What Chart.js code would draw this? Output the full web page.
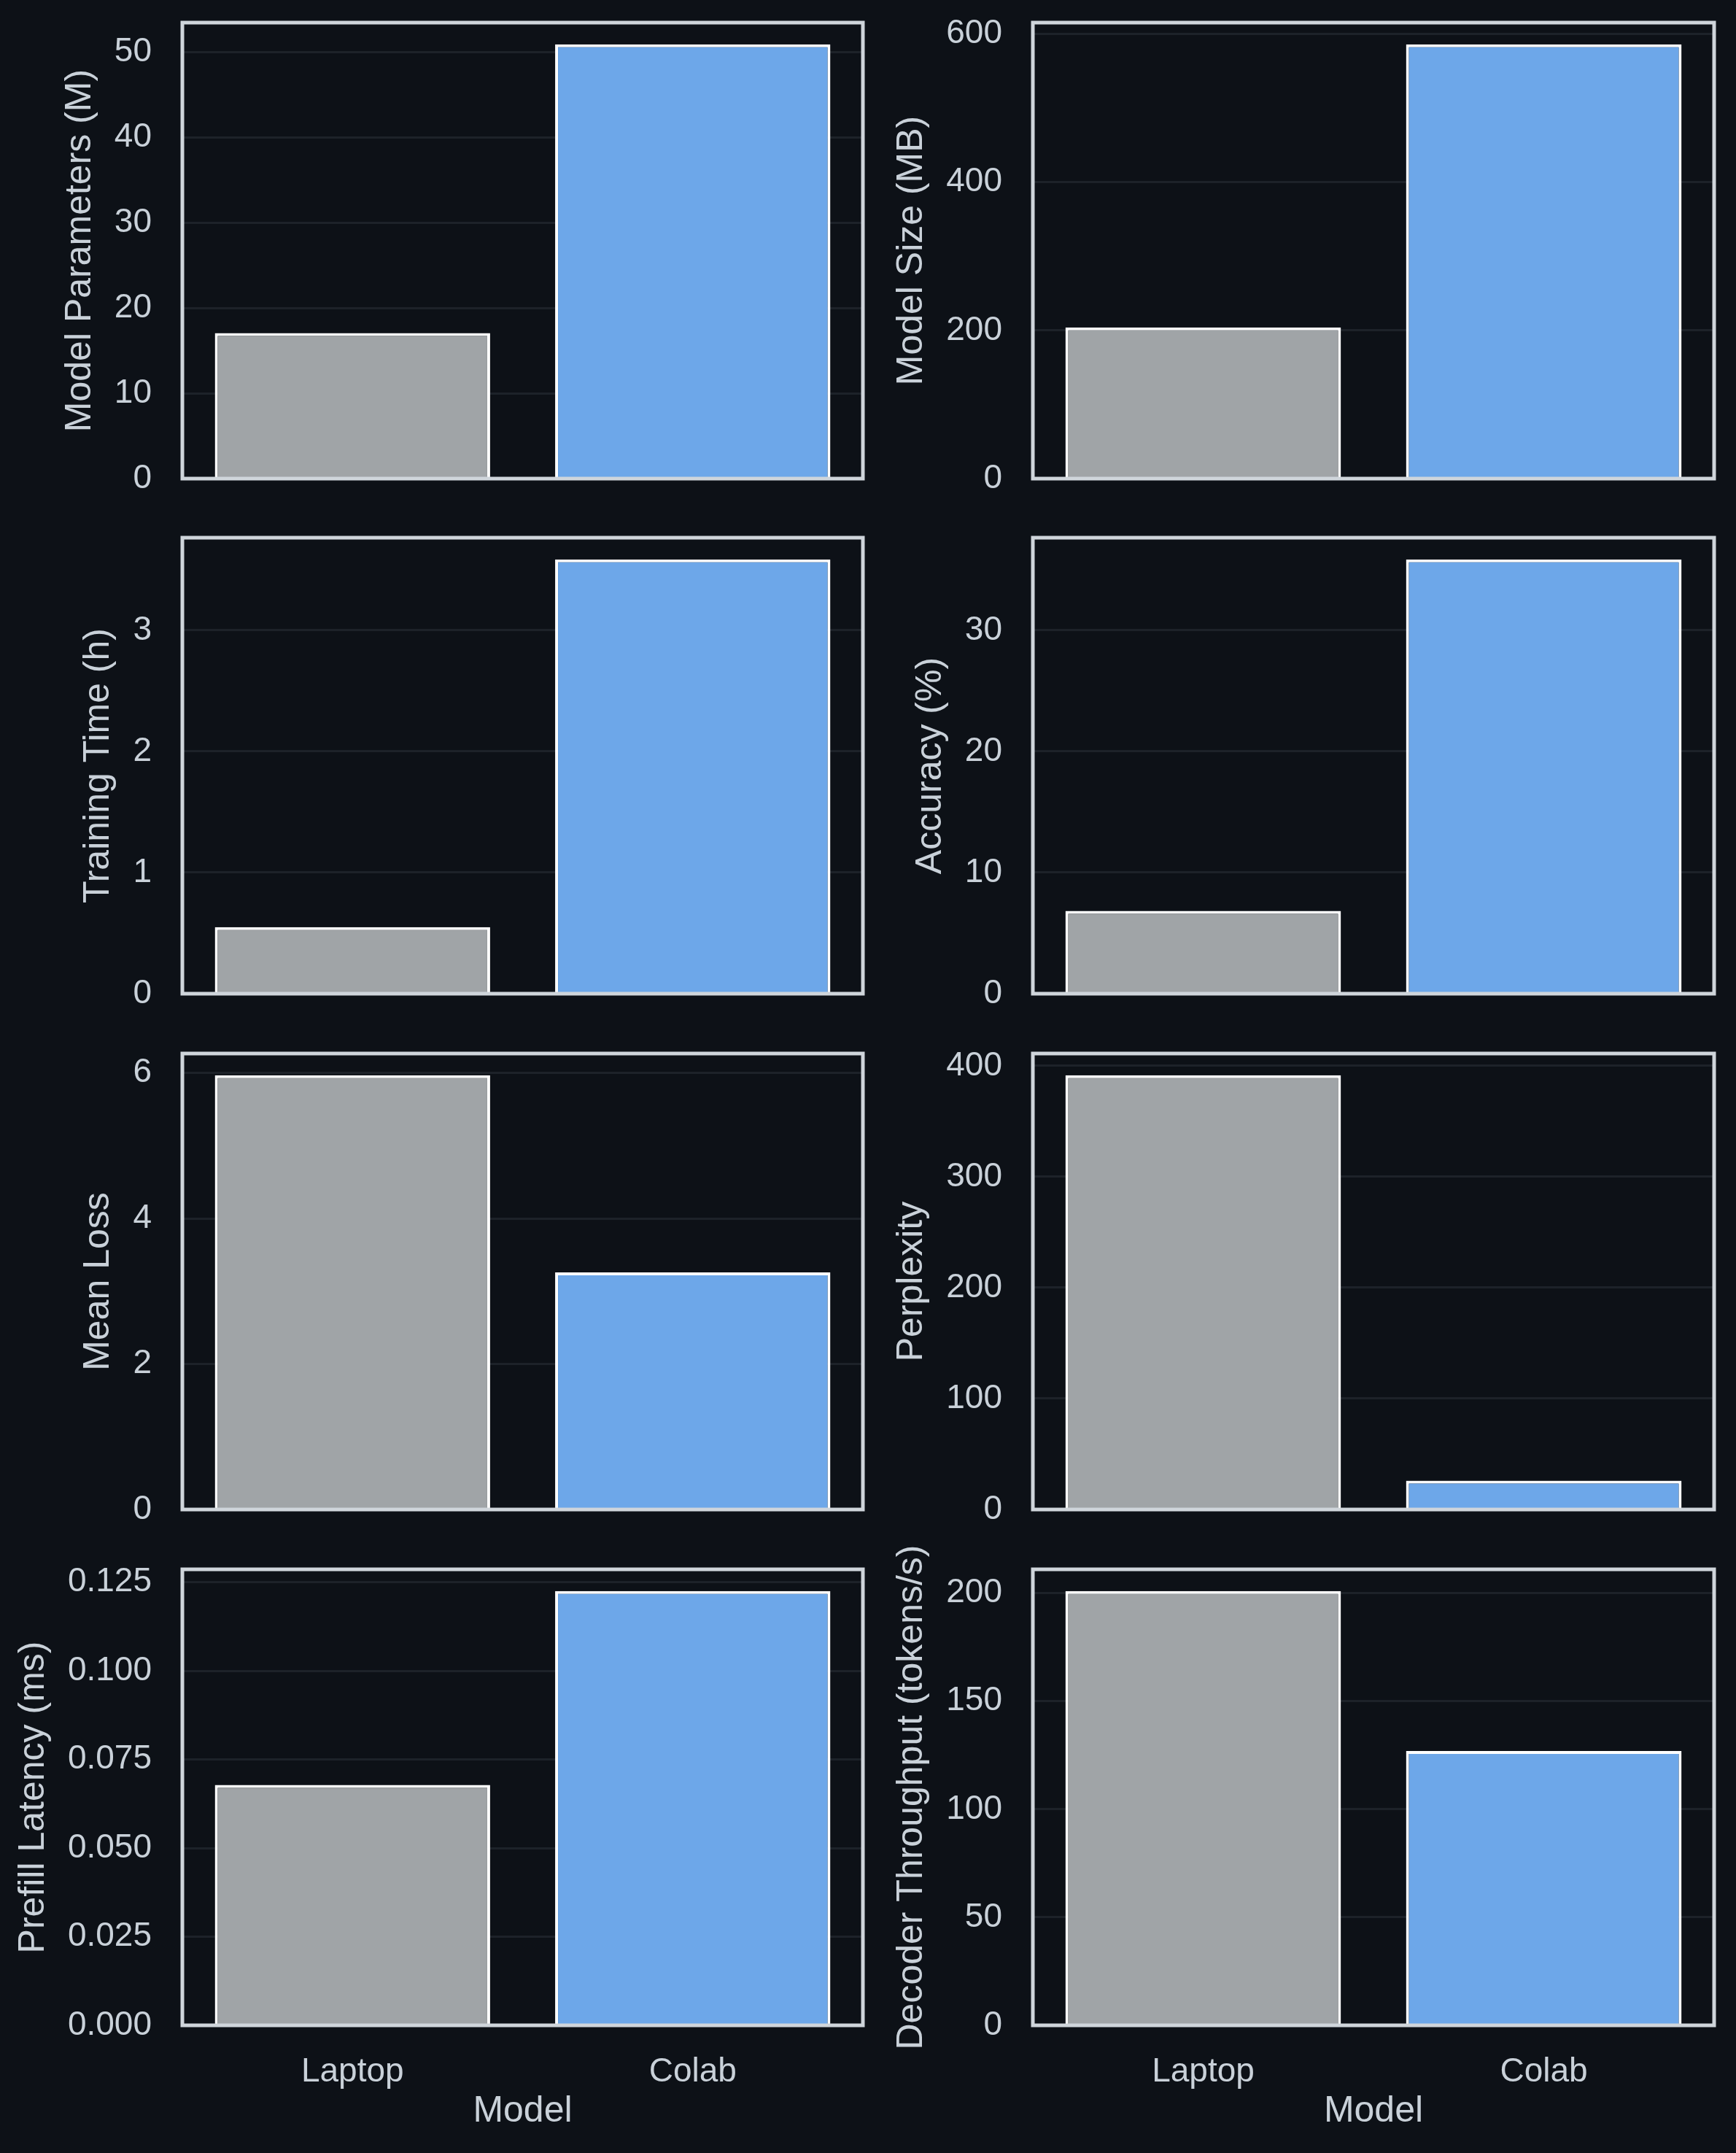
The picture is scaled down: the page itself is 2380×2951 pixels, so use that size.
<!DOCTYPE html>
<html>
<head>
<meta charset="utf-8">
<script src="https://cdn.jsdelivr.net/npm/chart.js@4.4.1/dist/chart.umd.min.js"></script>
<style>
  html, body { margin: 0; padding: 0; background: #0d1117; }
  #fig { position: relative; width: 2380px; height: 2951px; background: #0d1117; overflow: hidden; }
  #fig canvas { position: absolute; }
</style>
</head>
<body>
<div id="fig"></div>
<script>
// data
const models = ["Laptop", "Colab"];

const paramsM      = [17.06, 50.9];
const sizeMB       = [204, 586];
const trainHours   = [0.55, 3.585];
const accuracyPct  = [6.84, 35.85];
const meanLoss     = [5.97, 3.26];
const perplexity   = [391.5, 26.0];
const prefillMs    = [0.0678, 0.1225];
const decodeTokS   = [201, 127];

const paramsTicks  = [0, 10, 20, 30, 40, 50];
const sizeTicks    = [0, 200, 400, 600];
const trainTicks   = [0, 1, 2, 3];
const accTicks     = [0, 10, 20, 30];
const lossTicks    = [0, 2, 4, 6];
const pplTicks     = [0, 100, 200, 300, 400];
const prefillTicks = [0, 0.025, 0.05, 0.075, 0.1, 0.125];
const decodeTicks  = [0, 50, 100, 150, 200];

const panels = [
  { title: "Model Parameters (M)",           values: paramsM,     ticks: paramsTicks,  dp: 0 },
  { title: "Model Size (MB)",                values: sizeMB,      ticks: sizeTicks,    dp: 0 },
  { title: "Training Time (h)",              values: trainHours,  ticks: trainTicks,   dp: 0 },
  { title: "Accuracy (%)",                   values: accuracyPct, ticks: accTicks,     dp: 0 },
  { title: "Mean Loss",                      values: meanLoss,    ticks: lossTicks,    dp: 0 },
  { title: "Perplexity",                     values: perplexity,  ticks: pplTicks,     dp: 0 },
  { title: "Prefill Latency (ms)",           values: prefillMs,   ticks: prefillTicks, dp: 3 },
  { title: "Decoder Throughput (tokens/s)",  values: decodeTokS,  ticks: decodeTicks,  dp: 0 }
];

// look
const TEXT = "#c9d1d9";
const FRAME = "#cfd5db";
const GRID = "#1d2229";
const BAR_COLORS = ["#a0a4a7", "#6da7e9"];
const FONT = '"Liberation Sans", Arial, Helvetica, sans-serif';
const TICK_SIZE = 46;
const LABEL_SIZE = 50;

// layout of the 4x2 grid (canvas cells + plot area inside)
const cols = [
  { left: 0,    width: 1200, axisW: 250, padRight: 17 },
  { left: 1200, width: 1180, axisW: 216, padRight: 30 }
];
const rowTops = [0, 706, 1413, 2120];
const PAD_TOP = 31;
const PLOT_H = 625;

const measure = document.createElement("canvas").getContext("2d");
measure.font = `${TICK_SIZE}px ${FONT}`;

const framePlugin = {
  id: "frame",
  afterDraw(chart) {
    const { ctx, chartArea: a } = chart;
    ctx.save();
    ctx.strokeStyle = FRAME;
    ctx.lineWidth = 5;
    ctx.strokeRect(a.left, a.top, a.right - a.left, a.bottom - a.top);
    ctx.restore();
  }
};

function noPad(s) {
  s.paddingTop = 0;
  s.paddingBottom = 0;
  s.paddingLeft = 0;
  s.paddingRight = 0;
}

const fig = document.getElementById("fig");

panels.forEach((p, i) => {
  const row = Math.floor(i / 2);
  const col = cols[i % 2];
  const last = row === 3;
  const height = last ? 2951 - rowTops[row] : PAD_TOP + PLOT_H + 30;

  const canvas = document.createElement("canvas");
  canvas.width = col.width;
  canvas.height = height;
  canvas.style.left = col.left + "px";
  canvas.style.top = rowTops[row] + "px";
  canvas.style.width = col.width + "px";
  canvas.style.height = height + "px";
  fig.appendChild(canvas);

  const fmt = (v) => Number(v).toFixed(p.dp);
  const widest = Math.max(...p.ticks.map((t) => measure.measureText(fmt(t)).width));
  const labelLeft = col.axisW - 42 - widest;
  const titlePad = Math.max(0, labelLeft - 47 - LABEL_SIZE * 0.6);

  new Chart(canvas, {
    type: "bar",
    data: {
      labels: models,
      datasets: [{
        data: p.values,
        backgroundColor: BAR_COLORS,
        borderColor: "#ffffff",
        borderWidth: 4,
        barPercentage: 0.809,
        categoryPercentage: 1.0
      }]
    },
    options: {
      responsive: false,
      devicePixelRatio: 1,
      animation: false,
      layout: { padding: { left: 0, top: PAD_TOP, right: col.padRight, bottom: 0 } },
      plugins: { legend: { display: false }, tooltip: { enabled: false } },
      scales: {
        x: {
          display: last,
          grid: { display: false },
          border: { display: false },
          ticks: { color: TEXT, font: { family: FONT, size: TICK_SIZE }, padding: 29 },
          title: {
            display: true,
            text: "Model",
            color: TEXT,
            font: { family: FONT, size: LABEL_SIZE },
            padding: { top: 0, bottom: 27 }
          },
          // bottom strip below the plot; invisible on the upper rows
          afterFit: (s) => { s.height = height - PAD_TOP - PLOT_H; noPad(s); }
        },
        y: {
          min: 0,
          max: Math.max(...p.values) * 1.05,
          afterBuildTicks: (s) => { s.ticks = p.ticks.map((v) => ({ value: v })); },
          grid: { color: GRID, lineWidth: 3, drawTicks: false },
          border: { display: false },
          ticks: {
            color: TEXT,
            font: { family: FONT, size: TICK_SIZE },
            padding: 42,
            callback: (v) => fmt(v)
          },
          title: {
            display: true,
            text: p.title,
            color: TEXT,
            font: { family: FONT, size: LABEL_SIZE },
            padding: { top: titlePad, bottom: 0 }
          },
          afterFit: (s) => { s.width = col.axisW; noPad(s); }
        }
      }
    },
    plugins: [framePlugin]
  });
});
</script>
</body>
</html>
